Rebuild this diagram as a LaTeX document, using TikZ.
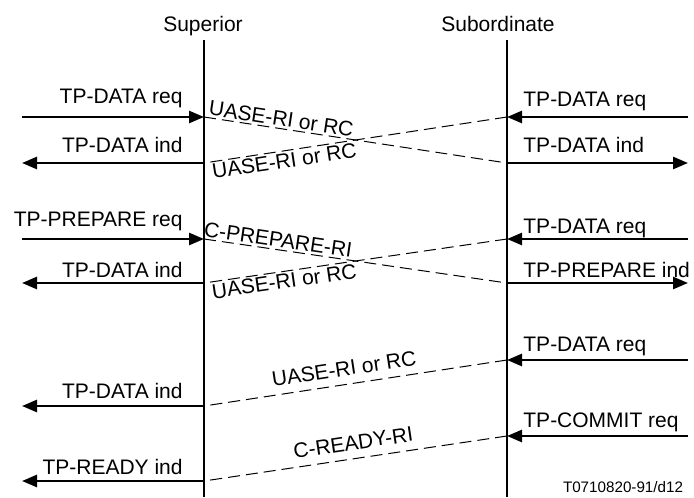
\documentclass[tikz,border=0pt]{standalone}
\usepackage{fontspec}
\setmainfont{Liberation Sans}
\usetikzlibrary{arrows.meta}
\usetikzlibrary{positioning}
\tikzset{
    >={Triangle[length=7.5pt,width=6pt]},
    lifeline/.style={draw=black, line width=1pt},
    primitive/.style={draw=black, line width=1.3pt, ->},
    apdu/.style={draw=black, line width=0.5pt, dash pattern=on 6pt off 3pt},
    lbl/.style={font=\fontsize{10.5}{12}\selectfont, inner sep=1pt},
    reflbl/.style={font=\fontsize{7.6}{9}\selectfont, inner sep=0pt},
}

\begin{document}
\begin{tikzpicture}[x=0.5pt, y=-0.5pt]
\useasboundingbox (0,0) rectangle (694,497);
% \draw[step=50, very thin, gray] (0,0) grid (694,497);
\node[lbl, anchor=base] (superior) at (203,32) {Superior};
\node[lbl, anchor=base] (subordinate) at (498,32) {Subordinate};
\coordinate (supT) at (204,40);
\coordinate (supB) at (204,497);
\coordinate (subT) at (507,40);
\coordinate (subB) at (507,497);
\draw[lifeline] (supT) -- (supB);
\draw[lifeline] (subT) -- (subB);

% first exchange
\coordinate (a1) at (22,117);  \coordinate (sup1) at (204,117);
\coordinate (sub1) at (507,117); \coordinate (b1) at (688,117);
\coordinate (a2) at (22,163);  \coordinate (sup2) at (204,163);
\coordinate (sub2) at (507,163); \coordinate (b2) at (688,163);
\draw[primitive] (a1) -- (sup1);
\node[lbl, anchor=base east] (treq1) at (185,104) {TP-DATA req};
\draw[primitive] (b1) -- (sub1);
\node[lbl, anchor=base west] (treq2) at (521,107) {TP-DATA req};
\draw[primitive] (sup2) -- (a2);
\node[lbl, anchor=base east] (tind1) at (185,153) {TP-DATA ind};
\draw[primitive] (sub2) -- (b2);
\node[lbl, anchor=base west] (tind2) at (521,153) {TP-DATA ind};
\draw[apdu] (sup1) -- node[lbl, sloped, above, pos=0.25] (uase1) {UASE-RI or RC} (sub2);
\draw[apdu] (sub1) -- node[lbl, sloped, below, pos=0.74] (uase2) {UASE-RI or RC} (sup2);

% prepare
\coordinate (a3) at (22,239);  \coordinate (sup3) at (204,239);
\coordinate (sub3) at (507,239); \coordinate (b3) at (688,239);
\coordinate (a4) at (22,283);  \coordinate (sup4) at (204,283);
\coordinate (sub4) at (507,283); \coordinate (b4) at (688,283);
\draw[primitive] (a3) -- (sup3);
\node[lbl, anchor=base east] (prepreq) at (185,226) {TP-PREPARE req};
\draw[primitive] (b3) -- (sub3);
\node[lbl, anchor=base west] (treq3) at (521,233) {TP-DATA req};
\draw[primitive] (sup4) -- (a4);
\node[lbl, anchor=base east] (tind3) at (185,277) {TP-DATA ind};
\draw[primitive] (sub4) -- (b4);
\node[lbl, anchor=base west] (prepind) at (521,277) {TP-PREPARE ind};
\draw[apdu] (sup3) -- node[lbl, sloped, above, pos=0.24] (cprep) {C-PREPARE-RI} (sub4);
\draw[apdu] (sub3) -- node[lbl, sloped, below, pos=0.74] (uase3) {UASE-RI or RC} (sup4);

% ready
\coordinate (b5) at (688,360);  \coordinate (sub5) at (507,360);
\coordinate (sup5) at (204,406); \coordinate (a5) at (22,406);
\coordinate (b6) at (688,436);  \coordinate (sub6) at (507,436);
\coordinate (sup6) at (204,481); \coordinate (a6) at (22,481);
\draw[primitive] (b5) -- (sub5);
\node[lbl, anchor=base west] (treq4) at (521,351) {TP-DATA req};
\draw[primitive] (sup5) -- (a5);
\node[lbl, anchor=base east] (tind4) at (185,398) {TP-DATA ind};
\draw[apdu] (sub5) -- node[lbl, sloped, above=3pt, pos=0.53] (uase4) {UASE-RI or RC} (sup5);
\draw[primitive] (b6) -- (sub6);
\node[lbl, anchor=base west] (commreq) at (521,427) {TP-COMMIT req};
\draw[primitive] (sup6) -- (a6);
\node[lbl, anchor=base east] (readyind) at (185,474) {TP-READY ind};
\draw[apdu] (sub6) -- node[lbl, sloped, above=3pt, pos=0.5] (cready) {C-READY-RI} (sup6);

\node[reflbl, anchor=base] (ref) at (623,492) {T0710820-91/d12};
\end{tikzpicture}
\end{document}
